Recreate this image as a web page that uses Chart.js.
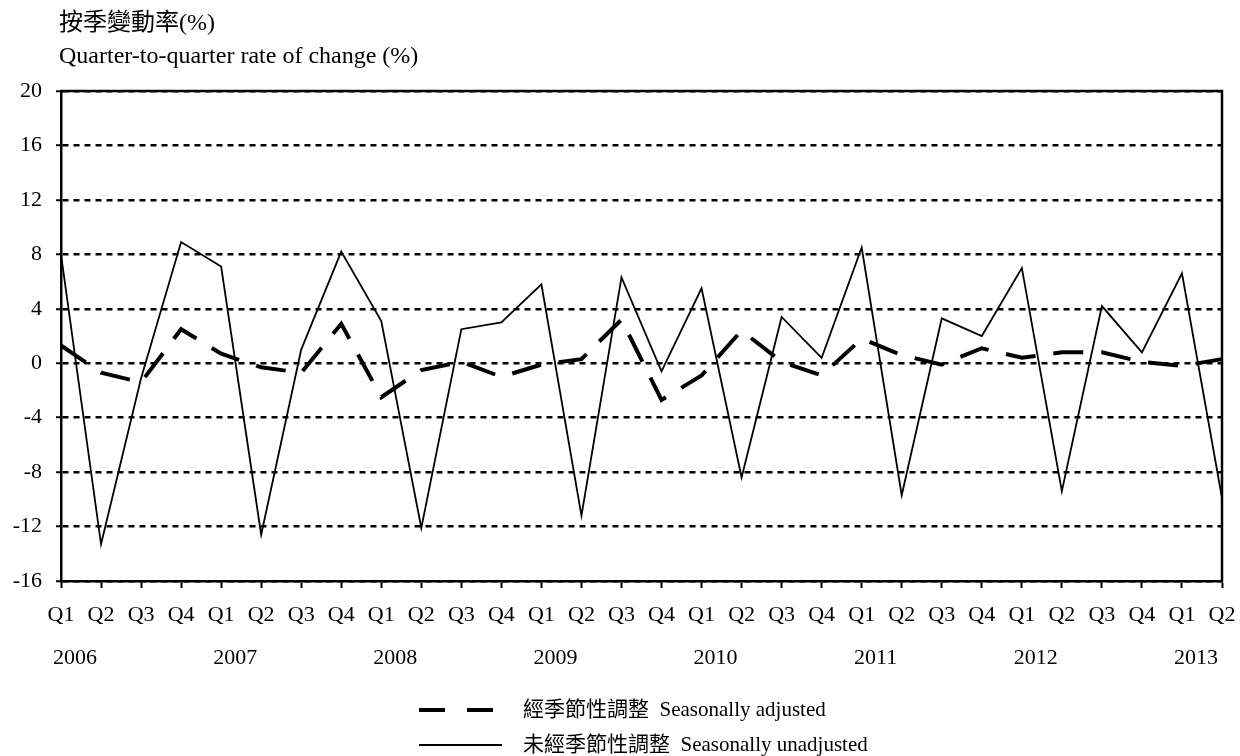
<!DOCTYPE html>
<html>
<head>
<meta charset="utf-8">
<script src="https://cdn.jsdelivr.net/npm/chart.js@4"></script>
<style>
  html,body{margin:0;padding:0;background:#fff;}
  #wrap{width:1240px;height:756px;position:relative;}
</style>
</head>
<body>
<div id="wrap"><canvas id="qoq"></canvas></div>
<script>
/* ---------- data ---------- */
const quarters   = ['Q1','Q2','Q3','Q4','Q1','Q2','Q3','Q4','Q1','Q2','Q3','Q4','Q1','Q2','Q3',
                    'Q4','Q1','Q2','Q3','Q4','Q1','Q2','Q3','Q4','Q1','Q2','Q3','Q4','Q1','Q2'];
const years      = ['2006','2007','2008','2009','2010','2011','2012','2013'];
const adjusted   = [1.3,-0.7,-1.4,2.5,0.7,-0.3,-0.7,2.9,-2.5,-0.5,0.1,-1.0,-0.1,0.3,3.2,
                    -2.7,-0.9,2.4,0.1,-0.9,1.8,0.6,-0.1,1.1,0.4,0.8,0.8,0.1,-0.2,0.3];
const unadjusted = [8.0,-13.3,-1.1,8.9,7.1,-12.6,1.0,8.2,3.1,-12.1,2.5,3.0,5.8,-11.2,6.3,
                    -0.6,5.5,-8.4,3.4,0.4,8.5,-9.7,3.3,2.0,7.0,-9.4,4.2,0.8,6.6,-9.9];
const titleLines = ['按季變動率(%)','Quarter-to-quarter rate of change (%)'];

/* ---------- look ---------- */
const FONT = '"Liberation Serif", "Noto Sans CJK TC", serif';
Chart.defaults.font.family = FONT;
Chart.defaults.color = '#000';

/* box, title, year row and legend drawn by hand */
const extras = {
  id:'extras',
  beforeDatasetsDraw(chart){
    const {ctx, chartArea:a} = chart;
    ctx.save();
    ctx.strokeStyle = '#000'; ctx.lineWidth = 2.5;
    ctx.beginPath();
    ctx.moveTo(a.left, a.top); ctx.lineTo(a.right, a.top); ctx.lineTo(a.right, a.bottom);
    ctx.stroke();
    ctx.restore();
  },
  afterDraw(chart){
    const {ctx, scales:{x}} = chart;
    ctx.save();
    ctx.fillStyle = '#000';
    ctx.textBaseline = 'middle';

    // title
    ctx.font = '24px ' + FONT;
    ctx.textAlign = 'left';
    ctx.fillText(titleLines[0], 59, 24);
    ctx.fillText(titleLines[1], 59, 57);

    // year row under the quarters
    const step = x.getPixelForValue(1) - x.getPixelForValue(0);
    ctx.font = '22px ' + FONT;
    ctx.textAlign = 'center';
    years.forEach((y,i)=> ctx.fillText(y, x.getPixelForValue(i*4) + step*0.35, 658));

    // legend
    const rows = [710, 745];
    ctx.font = '21px ' + FONT;
    ctx.textAlign = 'left';
    chart.data.datasets.forEach((ds,i)=>{
      const y = rows[i];
      ctx.beginPath();
      ctx.strokeStyle = ds.borderColor;
      ctx.lineWidth = ds.borderWidth;
      ctx.setLineDash(ds.borderDash.length ? [26,22] : []);
      ctx.moveTo(419, y); ctx.lineTo(ds.borderDash.length ? 494 : 502, y);
      ctx.stroke();
      ctx.setLineDash([]);
      ctx.fillText(ds.label, 523, y);
    });
    ctx.restore();
  }
};

new Chart(document.getElementById('qoq'),{
  type:'line',
  data:{
    labels:quarters,
    datasets:[
      {label:'經季節性調整  Seasonally adjusted', data:adjusted,
       borderColor:'#000', borderWidth:4, borderDash:[30,18], pointRadius:0, tension:0, fill:false},
      {label:'未經季節性調整  Seasonally unadjusted', data:unadjusted,
       borderColor:'#000', borderWidth:1.8, borderDash:[], pointRadius:0, tension:0, fill:false}
    ]
  },
  options:{
    responsive:true, maintainAspectRatio:false, animation:false,
    layout:{padding:{top:91, right:18, left:0, bottom:0}},
    plugins:{legend:{display:false}, tooltip:{enabled:false}},
    scales:{
      x:{
        offset:false,
        afterFit: s => { s.height = 756 - 581; s.paddingLeft = 0; s.paddingRight = 0; },
        grid:{drawOnChartArea:false, drawTicks:true, tickLength:7, color:'#000', tickWidth:2},
        border:{color:'#000', width:2.5},
        ticks:{font:{size:22}, padding:14, maxRotation:0, autoSkip:false}
      },
      y:{
        min:-16, max:20,
        afterFit: s => { s.width = 61; s.paddingTop = 0; s.paddingBottom = 0; },
        grid:{color:'#000', lineWidth:2.5, tickLength:5, tickWidth:2, tickBorderDash:[]},
        border:{color:'#000', width:2.5, dash:[6,5]},
        ticks:{stepSize:4, font:{size:22}, padding:14}
      }
    }
  },
  plugins:[extras]
});
</script>
</body>
</html>
